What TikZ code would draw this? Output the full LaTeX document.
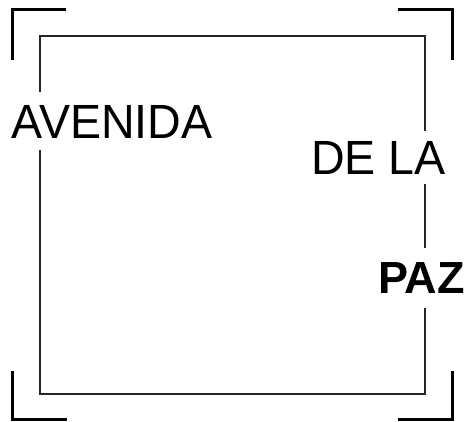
\documentclass[tikz,border=0pt]{standalone}
\usepackage{fontspec}
\setmainfont{Liberation Sans}
\newfontfamily\streetfont[FakeStretch=0.97]{Liberation Sans}
\usetikzlibrary{positioning}

\tikzset{
  bracket/.style={line width=3pt, line cap=butt, line join=miter},
  frame/.style={line width=2.2pt, black!85},
  street/.style={fill=white, inner xsep=2pt, text height=34.5pt, text depth=0pt,
    font=\streetfont\fontsize{48}{48}\selectfont}
}

\begin{document}
\begin{tikzpicture}[x=1pt, y=1pt]
\useasboundingbox (0,0) rectangle (471,421);

% Corner brackets
\draw[bracket] (12,361) -- (12,411) -- (66,411);
\draw[bracket] (398,411) -- (452,411) -- (452,361);
\draw[bracket] (12,50) -- (12,2) -- (67,2);
\draw[bracket] (398,2) -- (452,2) -- (452,50);

% Inner frame
\draw[frame] (40,385) rectangle (425,27);

% Street name ------------------------------
\node[street, inner ysep=12pt] (avenida) at (112,300) {AVENIDA};
\node[street, inner ysep=9pt] (dela) at (378.5,263.5) {DE LA};
\node[street, inner ysep=14pt, font=\fontsize{45}{45}\selectfont\bfseries,
  text height=32pt] (paz) at (421.5,143.5) {PAZ};

\end{tikzpicture}
\end{document}
